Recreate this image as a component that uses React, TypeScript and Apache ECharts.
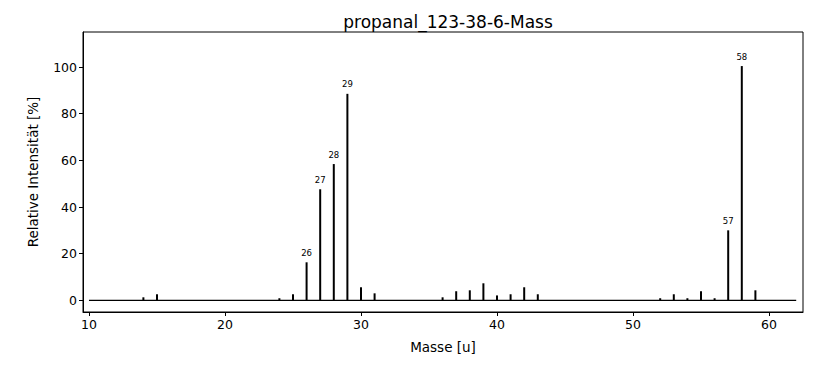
import React, { useEffect, useRef } from "react";
import * as echarts from "echarts";

const masses = [14, 15, 24, 25, 26, 27, 28, 29, 30, 31, 36, 37, 38, 39, 40, 41, 42, 43, 52, 53, 54, 55, 56, 57, 58, 59];
const intensities = [1.3, 2.6, 0.9, 2.6, 16.3, 47.6, 58.4, 88.5, 5.6, 3.0, 1.3, 3.9, 4.3, 7.3, 2.1, 2.6, 5.6, 2.6, 0.9, 2.6, 0.9, 3.9, 0.9, 30.0, 100.4, 4.3];
const labelThreshold = 15;
const baselineRange = [10, 62];
const xTicks = [10, 20, 30, 40, 50, 60];
const yTicks = [0, 20, 40, 60, 80, 100];
const titleText = "propanal_123-38-6-Mass";
const xName = "Masse [u]";
const yName = "Relative Intensität [%]";

const FONT = "DejaVu Sans";

export default function App() {
  const ref = useRef<HTMLDivElement>(null);
  useEffect(() => {
    if (!ref.current) return;
    const chart = echarts.init(ref.current, undefined, { renderer: "svg" });
    const barData = masses.map((m, i) => ({
      value: [m, intensities[i]],
      label: { show: intensities[i] > labelThreshold },
    }));
    chart.setOption({
      animation: false,
      backgroundColor: "#fff",
      title: {
        text: titleText,
        left: 443,
        textAlign: "center",
        top: 8,
        textStyle: { fontFamily: FONT, fontSize: 17, fontWeight: "normal", color: "#000" },
      },
      grid: {
        left: 83,
        top: 32,
        right: 12,
        bottom: 56,
        show: true,
        borderColor: "#000",
        borderWidth: 1,
        backgroundColor: "transparent",
      },
      xAxis: {
        type: "value",
        min: 9.56,
        max: 62.5,
        name: xName,
        nameLocation: "middle",
        nameGap: 28,
        nameTextStyle: { fontFamily: FONT, fontSize: 13.5, color: "#000" },
        axisLine: { show: true, onZero: false, lineStyle: { color: "#000", width: 1 } },
        axisTick: { show: true, length: 4, customValues: xTicks, lineStyle: { color: "#000" } },
        axisLabel: { customValues: xTicks, fontFamily: FONT, fontSize: 12.5, color: "#000", margin: 6 },
        splitLine: { show: false },
      },
      yAxis: {
        type: "value",
        min: -5,
        max: 115,
        name: yName,
        nameLocation: "middle",
        nameGap: 43,
        nameTextStyle: { fontFamily: FONT, fontSize: 13.5, color: "#000" },
        axisLine: { show: true, onZero: false, lineStyle: { color: "#000", width: 1 } },
        axisTick: { show: true, length: 4, customValues: yTicks, lineStyle: { color: "#000" } },
        axisLabel: { customValues: yTicks, fontFamily: FONT, fontSize: 12.5, color: "#000", margin: 6 },
        splitLine: { show: false },
      },
      series: [
        {
          type: "line",
          data: baselineRange.map((x) => [x, 0]),
          symbol: "none",
          lineStyle: { color: "#000", width: 1.2 },
          silent: true,
          z: 1,
        },
        {
          type: "bar",
          data: barData,
          barWidth: 2,
          itemStyle: { color: "#000" },
          label: {
            position: "top",
            distance: 5,
            fontFamily: FONT,
            fontSize: 8.5,
            color: "#000",
            formatter: (p: any) => String(p.value[0]),
          },
          z: 2,
        },
      ],
    });
    return () => chart.dispose();
  }, []);
  return (
    <div
      ref={ref}
      style={{ position: "absolute", left: 0, top: 0, width: 815, height: 368 }}
    />
  );
}
